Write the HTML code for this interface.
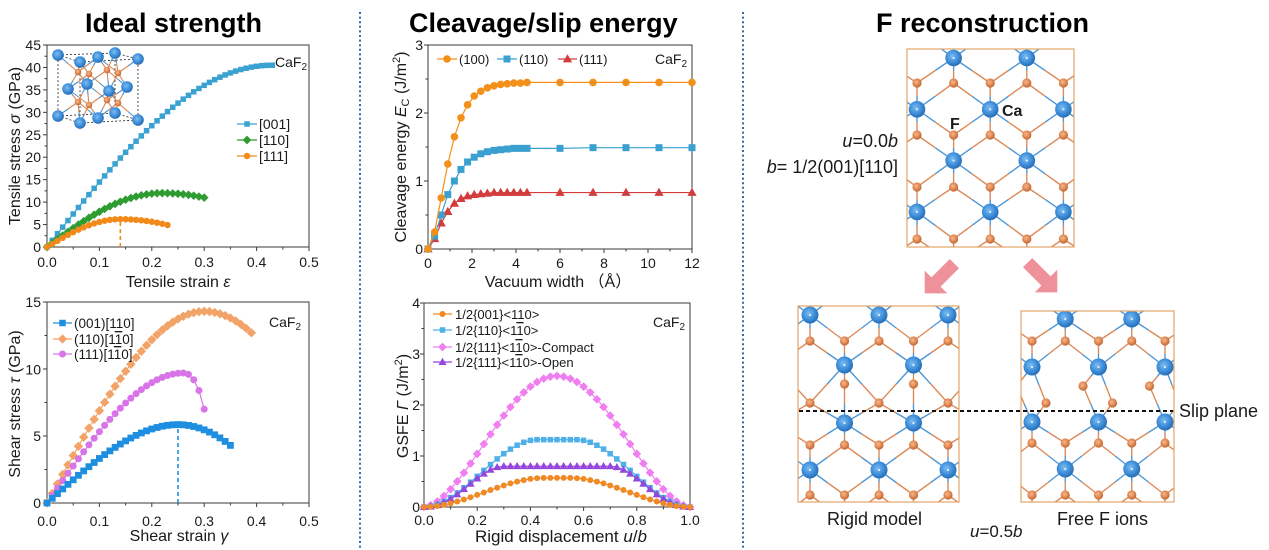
<!DOCTYPE html>
<html><head><meta charset="utf-8">
<style>
html,body{margin:0;padding:0;background:#fff;width:1269px;height:550px;overflow:hidden}
svg{display:block}
text{font-family:"Liberation Sans","Noto Sans CJK SC",sans-serif;fill:#1a1a1a}
.t{font-size:27px;font-weight:bold;fill:#000}
.tk{font-size:14px;fill:#222}
.ax{font-size:16px}
.lg{font-size:13px}
.ol{text-decoration:overline}
</style></head><body>
<svg id="svg" width="1269" height="550" viewBox="0 0 1269 550" xmlns="http://www.w3.org/2000/svg">
<defs id="defs">
<radialGradient id="gCa" cx="0.42" cy="0.4" r="0.65"><stop offset="0" stop-color="#7dbcf0"/><stop offset="0.55" stop-color="#3f8fdb"/><stop offset="1" stop-color="#2466ad"/></radialGradient>
<radialGradient id="gF" cx="0.42" cy="0.4" r="0.65"><stop offset="0" stop-color="#f6b88e"/><stop offset="0.55" stop-color="#e08852"/><stop offset="1" stop-color="#b9612f"/></radialGradient>
</defs>
<rect x="0" y="0" width="1269" height="550" fill="#fff"/>
<line x1="360" y1="12" x2="360" y2="548" stroke="#2e6da6" stroke-width="2" stroke-dasharray="2 2.6"/>
<line x1="743" y1="12" x2="743" y2="548" stroke="#2e6da6" stroke-width="2" stroke-dasharray="2 2.6"/>
<g id="L"></g>

<!-- Titles -->
<text class="t" x="85" y="32">Ideal strength</text>
<text class="t" x="409" y="32">Cleavage/slip energy</text>
<text class="t" x="876" y="32">F reconstruction</text>

<!-- Chart A ticks -->
<g class="tk" text-anchor="end">
<text x="41" y="252">0</text><text x="41" y="229.6">5</text><text x="41" y="207.1">10</text><text x="41" y="184.7">15</text><text x="41" y="162.2">20</text><text x="41" y="139.8">25</text><text x="41" y="117.3">30</text><text x="41" y="94.9">35</text><text x="41" y="72.4">40</text><text x="41" y="50">45</text>
</g>
<g class="tk" text-anchor="middle">
<text x="47" y="267">0.0</text><text x="99.4" y="267">0.1</text><text x="151.8" y="267">0.2</text><text x="204.2" y="267">0.3</text><text x="256.6" y="267">0.4</text><text x="309" y="267">0.5</text>
</g>
<text class="ax" text-anchor="middle" x="178" y="287">Tensile strain <tspan font-style="italic">ε</tspan></text>
<text class="ax" text-anchor="middle" transform="translate(20,146) rotate(-90)">Tensile stress <tspan font-style="italic">σ</tspan> (GPa)</text>
<text x="275" y="67" font-size="14">CaF<tspan font-size="10" dy="3">2</tspan></text>
<g font-size="14">
<text x="259" y="129">[001]</text><text x="259" y="145">[110]</text><text x="259" y="161">[111]</text>
</g>

<!-- Chart B ticks -->
<g class="tk" text-anchor="end">
<text x="41" y="508">0</text><text x="41" y="441">5</text><text x="41" y="374.3">10</text><text x="41" y="307">15</text>
</g>
<g class="tk" text-anchor="middle">
<text x="47" y="526">0.0</text><text x="99.4" y="526">0.1</text><text x="151.8" y="526">0.2</text><text x="204.2" y="526">0.3</text><text x="256.6" y="526">0.4</text><text x="309" y="526">0.5</text>
</g>
<text class="ax" text-anchor="middle" x="179" y="541">Shear strain <tspan font-style="italic">γ</tspan></text>
<text class="ax" text-anchor="middle" transform="translate(20,404) rotate(-90)">Shear stress <tspan font-style="italic">τ</tspan> (GPa)</text>
<text x="269" y="327" font-size="14">CaF<tspan font-size="10" dy="3">2</tspan></text>
<g font-size="13.5">
<text x="74" y="328">(001)[110]</text>
<text x="74" y="344">(110)[1<tspan class="ol">1</tspan>0]</text>
<text x="74" y="359">(111)[1<tspan class="ol">1</tspan>0]</text>
</g>

<!-- Chart C ticks -->
<g class="tk" text-anchor="end">
<text x="423" y="254">0</text><text x="423" y="186">1</text><text x="423" y="118">2</text><text x="423" y="50">3</text>
</g>
<g class="tk" text-anchor="middle">
<text x="428" y="268">0</text><text x="472" y="268">2</text><text x="516" y="268">4</text><text x="560" y="268">6</text><text x="604" y="268">8</text><text x="648" y="268">10</text><text x="692" y="268">12</text>
</g>
<text class="ax" text-anchor="middle" x="558" y="287">Vacuum width （Å）</text>
<text class="ax" text-anchor="middle" transform="translate(406,147) rotate(-90)">Cleavage energy <tspan font-style="italic">E</tspan><tspan font-size="11" dy="3">C</tspan><tspan dy="-3"> (J/m</tspan><tspan font-size="11" dy="-6">2</tspan><tspan dy="6">)</tspan></text>
<text x="655" y="64" font-size="14">CaF<tspan font-size="10" dy="3">2</tspan></text>
<g class="lg">
<text x="459" y="64">(100)</text><text x="519" y="64">(110)</text><text x="579" y="64">(111)</text>
</g>

<!-- Chart D ticks -->
<g class="tk" text-anchor="end">
<text x="420" y="512">0</text><text x="420" y="461">1</text><text x="420" y="410">2</text><text x="420" y="359">3</text><text x="420" y="308">4</text>
</g>
<g class="tk" text-anchor="middle">
<text x="424" y="525">0.0</text><text x="477.2" y="525">0.2</text><text x="530.4" y="525">0.4</text><text x="583.6" y="525">0.6</text><text x="636.8" y="525">0.8</text><text x="690" y="525">1.0</text>
</g>
<text text-anchor="middle" x="561" y="542" font-size="17">Rigid displacement <tspan font-style="italic">u</tspan>/<tspan font-style="italic">b</tspan></text>
<text class="ax" text-anchor="middle" transform="translate(408,406) rotate(-90)">GSFE <tspan font-style="italic">Γ</tspan> (J/m<tspan font-size="11" dy="-6">2</tspan><tspan dy="6">)</tspan></text>
<text x="653" y="327" font-size="14">CaF<tspan font-size="10" dy="3">2</tspan></text>
<g class="lg">
<text x="455" y="319">1/2{001}&lt;110&gt;</text>
<text x="455" y="335">1/2{110}&lt;1<tspan class="ol">1</tspan>0&gt;</text>
<text x="455" y="352">1/2{111}&lt;1<tspan class="ol">1</tspan>0&gt;-Compact</text>
<text x="455" y="367">1/2{111}&lt;1<tspan class="ol">1</tspan>0&gt;-Open</text>
</g>

<!-- Right panel arrows -->
<g transform="translate(936,282) rotate(135)"><polygon points="-26,-6.5 0,-6.5 0,-16 16,0 0,16 0,6.5 -26,6.5" fill="#ef919b"/></g>
<g transform="translate(1046,281) rotate(45)"><polygon points="-26,-6.5 0,-6.5 0,-16 16,0 0,16 0,6.5 -26,6.5" fill="#ef919b"/></g>

<g id="L2"></g>

<text x="898" y="147" font-size="18" text-anchor="end"><tspan font-style="italic">u</tspan>=0.0<tspan font-style="italic">b</tspan></text>
<text x="898" y="173" font-size="18" text-anchor="end"><tspan font-style="italic">b</tspan>= 1/2(001)[110]</text>
<text x="1002" y="116" font-size="16" font-weight="bold" fill="#000">Ca</text>
<text x="950" y="129" font-size="16" font-weight="bold" fill="#000">F</text>
<line x1="799" y1="411" x2="1173" y2="411" stroke="#111" stroke-width="2" stroke-dasharray="4 3"/>
<text x="1179" y="417" font-size="18">Slip plane</text>
<text x="827" y="525" font-size="18">Rigid model</text>
<text x="1057" y="525" font-size="18">Free F ions</text>
<text x="970" y="537" font-size="17"><tspan font-style="italic">u</tspan>=0.5<tspan font-style="italic">b</tspan></text>
</svg>
<script>
(function(){
const NS='http://www.w3.org/2000/svg';
const Lg=document.getElementById('L');
const L2=document.getElementById('L2');
const defs=document.getElementById('defs');
function el(t,a,p){const e=document.createElementNS(NS,t);for(const k in a)e.setAttribute(k,a[k]);(p||Lg).appendChild(e);return e;}

function chart(c){
  const X=v=>c.x0+(v-c.xa)/(c.xb-c.xa)*(c.x1-c.x0);
  const Y=v=>c.y0-(v-c.ya)/(c.yb-c.ya)*(c.y0-c.y1);
  const g=el('g',{stroke:'#3a3a3a','stroke-width':1,fill:'none'});
  const nx=Math.round((c.xb-c.xa)/c.xm);
  for(let i=0;i<=nx;i++){const x=X(c.xa+i*c.xm);const maj=(i%c.xr===0);el('line',{x1:x,y1:c.y0,x2:x,y2:c.y0+(maj?4:2.5)},g);}
  const ny=Math.round((c.yb-c.ya)/c.ym);
  for(let i=0;i<=ny;i++){const y=Y(c.ya+i*c.ym);const maj=(i%c.yr===0);el('line',{x1:c.x0,y1:y,x2:c.x0-(maj?4:2.5),y2:y},g);}
  el('rect',{x:c.x0,y:c.y1,width:c.x1-c.x0,height:c.y0-c.y1},g);
  return {X,Y};
}
function marker(type,x,y,s,col,p){
  switch(type){
    case 'sq': el('rect',{x:x-s/2,y:y-s/2,width:s,height:s,fill:col},p);break;
    case 'ci': el('circle',{cx:x,cy:y,r:s/2,fill:col},p);break;
    case 'di': el('polygon',{points:`${x},${y-s*0.62} ${x+s*0.62},${y} ${x},${y+s*0.62} ${x-s*0.62},${y}`,fill:col},p);break;
    case 'tr': el('polygon',{points:`${x},${y-s*0.6} ${x+s*0.58},${y+s*0.42} ${x-s*0.58},${y+s*0.42}`,fill:col},p);break;
  }
}
function series(ch,pts,col,type,s,lw){
  const P=pts.map(p=>[ch.X(p[0]),ch.Y(p[1])]);
  el('polyline',{points:P.map(p=>p[0].toFixed(2)+','+p[1].toFixed(2)).join(' '),fill:'none',stroke:col,'stroke-width':lw||1.2});
  P.forEach(p=>marker(type,p[0],p[1],s,col));
}
function legend(x1,x2,y,col,type,s){el('line',{x1:x1,y1:y,x2:x2,y2:y,stroke:col,'stroke-width':1.3});marker(type,(x1+x2)/2,y,s,col);}
function cub(t){return 1.5*t-0.5*t*t*t;}

/* ---------- Chart A ---------- */
const A=chart({x0:47,x1:309,y0:247,y1:45,xa:0,xb:0.5,xm:0.05,xr:2,ya:0,yb:45,ym:2.5,yr:2});
(function(){
  const ca=[[58,55],[80,62],[98,57],[115,53],[138,59],[68,89],[87,84],[109,91],[127,87],[58,116],[80,123],[98,118],[115,113],[138,120]];
  const f=[[78,72],[89,74],[107,70],[118,73],[78,102],[89,105],[107,100],[118,103]];
  const g=el('g',{});
  const dash={stroke:'#222','stroke-width':0.8,'stroke-dasharray':'2 2',fill:'none'};
  el('polygon',Object.assign({points:'58,55 115,53 115,113 58,116'},dash),g);
  el('polygon',Object.assign({points:'80,62 138,59 138,120 80,123'},dash),g);
  [[58,55,80,62],[115,53,138,59],[115,113,138,120],[58,116,80,123]].forEach(l=>el('line',Object.assign({x1:l[0],y1:l[1],x2:l[2],y2:l[3]},dash),g));
  ca.forEach(c=>f.forEach(q=>{const d=Math.hypot(c[0]-q[0],c[1]-q[1]);if(d<27){const m=[(c[0]+q[0])/2,(c[1]+q[1])/2];
    el('line',{x1:c[0],y1:c[1],x2:m[0],y2:m[1],stroke:'#4f90cc','stroke-width':1.1},g);
    el('line',{x1:m[0],y1:m[1],x2:q[0],y2:q[1],stroke:'#d9854f','stroke-width':1.1},g);}}));
  f.forEach(q=>el('circle',{cx:q[0],cy:q[1],r:3.3,fill:'url(#gF)'},g));
  ca.forEach(c=>el('circle',{cx:c[0],cy:c[1],r:5.8,fill:'url(#gCa)'},g));
})();
el('line',{x1:A.X(0.14),y1:A.Y(0),x2:A.X(0.14),y2:A.Y(6.2),stroke:'#f08a1a','stroke-width':1.6,'stroke-dasharray':'4 3'});
let p=[];
for(let i=0;i<=43;i++){const x=i/100;p.push([x,40.5*Math.sin(Math.PI/2*x/0.43)]);}
series(A,p,'#3aa2d2','sq',5.5);
p=[];for(let i=0;i<=30;i++){const x=i/100;p.push([x,x<=0.22?12*Math.sin(Math.PI/2*x/0.22):12-Math.pow((x-0.22)/0.08,2)]);}
series(A,p,'#2f9c32','di',7);
p=[];for(let i=0;i<=23;i++){const x=i/100;p.push([x,x<=0.14?6.2*Math.sin(Math.PI/2*x/0.14):6.2-1.3*Math.pow((x-0.14)/0.09,2)]);}
series(A,p,'#f28a1a','ci',6.4);
legend(237,257,124,'#3aa2d2','sq',5.5);
legend(237,257,140,'#2f9c32','di',7);
legend(237,257,156,'#f28a1a','ci',6.4);

/* ---------- Chart B ---------- */
const B=chart({x0:47,x1:309,y0:503,y1:302,xa:0,xb:0.5,xm:0.05,xr:2,ya:0,yb:15,ym:2.5,yr:2});
el('line',{x1:B.X(0.25),y1:B.Y(0),x2:B.X(0.25),y2:B.Y(5.85),stroke:'#1e8fe0','stroke-width':1.6,'stroke-dasharray':'4 3'});
p=[];for(let i=0;i<=39;i++){const x=i/100;p.push([x,x<=0.30?14.3*cub(x/0.30):14.3-1.6*Math.pow((x-0.30)/0.09,2)]);}
series(B,p,'#f2a468','di',7.6);
p=[];for(let i=0;i<=26;i++){const x=i/100;p.push([x,9.7*cub(x/0.26)]);}
p.push([0.27,9.6],[0.28,9.2],[0.29,8.4],[0.30,7.0]);
series(B,p,'#d874e8','ci',7);
p=[];for(let i=0;i<=35;i++){const x=i/100;p.push([x,x<=0.25?5.85*cub(x/0.25):5.85-1.55*Math.pow((x-0.25)/0.1,2)]);}
series(B,p,'#1e8fe0','sq',6.8);
legend(53,72,323,'#1e8fe0','sq',6.5);
legend(53,72,339,'#f2a468','di',7.5);
legend(53,72,354,'#d874e8','ci',7);

/* ---------- Chart C ---------- */
const C=chart({x0:428,x1:692,y0:249,y1:45,xa:0,xb:12,xm:1,xr:2,ya:0,yb:3,ym:0.5,yr:2});
const xs=[0,0.3,0.6,0.9,1.2,1.5,1.8,2.1,2.4,2.7,3.0,3.3,3.6,3.9,4.2,4.5,6,7.5,9,10.5,12];
const y100=[0,0.25,0.75,1.25,1.65,1.93,2.12,2.25,2.32,2.37,2.40,2.42,2.43,2.44,2.44,2.45,2.45,2.45,2.45,2.45,2.45];
const y110=[0,0.19,0.5,0.8,1.0,1.17,1.28,1.35,1.40,1.43,1.45,1.46,1.47,1.48,1.48,1.48,1.48,1.49,1.49,1.49,1.49];
const y111=[0,0.15,0.38,0.55,0.67,0.74,0.78,0.80,0.81,0.82,0.83,0.83,0.83,0.83,0.83,0.83,0.83,0.83,0.83,0.83,0.83];
series(C,xs.map((x,i)=>[x,y111[i]]),'#d23c3c','tr',8);
series(C,xs.map((x,i)=>[x,y110[i]]),'#3aa0d0','sq',7);
series(C,xs.map((x,i)=>[x,y100[i]]),'#f39019','ci',7.6);
legend(437,457,59,'#f39019','ci',7.6);
legend(497,517,59,'#3aa0d0','sq',7);
legend(558,577,59,'#d23c3c','tr',8);

/* ---------- Chart D ---------- */
const D=chart({x0:424,x1:690,y0:507,y1:303,xa:0,xb:1,xm:0.1,xr:2,ya:0,yb:4,ym:0.5,yr:2});
function ss(t){t=Math.max(0,Math.min(1,t));return 3*t*t-2*t*t*t;}
const pk=[],bl=[],pu=[],orr=[];
for(let i=0;i<=40;i++){const x=i/40;const t=Math.min(x,1-x)/0.5;const s=Math.sin(Math.PI*x);
  pk.push([x,2.57*Math.pow(Math.max(s,0),1.7)]);
  bl.push([x,1.32*ss(t/0.85)]);
  pu.push([x,0.8*Math.pow(ss(t/0.6),1.2)]);
  orr.push([x,0.57*ss(t/0.9)]);
}
series(D,pk,'#f07ef0','di',7);
series(D,bl,'#4fb0e8','sq',5.5);
series(D,pu,'#9546dc','tr',7);
series(D,orr,'#f08a24','ci',6);
legend(433,452,314,'#f08a24','ci',6);
legend(433,452,330,'#4fb0e8','sq',5.5);
legend(433,452,347,'#f07ef0','di',7);
legend(433,452,362,'#9546dc','tr',7);

/* ---------- Crystals ---------- */
function crystal(id,box,cas,fs,thr,rc,rf){
  const cp=el('clipPath',{id:id},defs);
  el('rect',{x:box[0],y:box[1],width:box[2]-box[0],height:box[3]-box[1]},cp);
  const g=el('g',{'clip-path':'url(#'+id+')'},L2);
  cas.forEach(c=>fs.forEach(f=>{const d=Math.hypot(c[0]-f[0],c[1]-f[1]);if(d<thr){const m=[(c[0]+f[0])/2,(c[1]+f[1])/2];
    el('line',{x1:c[0],y1:c[1],x2:m[0],y2:m[1],stroke:'#4f97d6','stroke-width':1.4},g);
    el('line',{x1:m[0],y1:m[1],x2:f[0],y2:f[1],stroke:'#dc8a58','stroke-width':1.4},g);}}));
  fs.forEach(f=>el('circle',{cx:f[0],cy:f[1],r:rf,fill:'url(#gF)'},g));
  cas.forEach(c=>{el('circle',{cx:c[0],cy:c[1],r:rc,fill:'url(#gCa)'},g);el('circle',{cx:c[0],cy:c[1],r:1.1,fill:'#dff0ff'},g);});
  el('rect',{x:box[0],y:box[1],width:box[2]-box[0],height:box[3]-box[1],fill:'none',stroke:'#e3a56a','stroke-width':1.2},L2);
}
(function(){
  const cas=[],fs=[];
  for(let j=-1;j<=4;j++)for(let k=-1;k<=5;k++){if(Math.abs(j+k)%2===1)cas.push([917+36.6*k,58+51.3*j]);}
  for(let j=-1;j<=4;j++)for(let k=-1;k<=5;k++)fs.push([917+36.6*k,83+52*j]);
  crystal('c1',[907,49,1074,247],cas,fs,50,8.3,4.6);
})();
(function(){
  const X=k=>810+34.5*k;const cas=[],fs=[];
  const car=[[265,1],[315,0],[365,1],[423,1],[470,0],[520,1]];
  car.forEach(r=>{for(let k=-1;k<=5;k++){if(((k%2)+2)%2===r[1])cas.push([X(k),r[0]]);}});
  const fr=[[290,-1],[341,-1],[384,1],[403,0],[445,-1],[495,-1]];
  fr.forEach(r=>{for(let k=-1;k<=5;k++){if(r[1]===-1||((k%2)+2)%2===r[1])fs.push([X(k),r[0]]);}});
  crystal('c2',[798,306,959,502],cas,fs,52,8.5,4.6);
})();
(function(){
  const X=k=>1032+33.25*k;const cas=[],fs=[];
  const car=[[271,0],[319,1],[367,0],[422,0],[469,1],[518,0]];
  car.forEach(r=>{for(let k=-1;k<=5;k++){if(((k%2)+2)%2===r[1])cas.push([X(k),r[0]]);}});
  [296,341,443,495].forEach(y=>{for(let k=-1;k<=5;k++)fs.push([X(k),y]);});
  [[1016.5,386],[1083,386],[1149.5,386],[1046,403],[1112.5,403],[1179,403]].forEach(q=>fs.push(q));
  crystal('c3',[1021,311,1174,502],cas,fs,45,8.5,4.6);
})();
})();
</script>
</body></html>
